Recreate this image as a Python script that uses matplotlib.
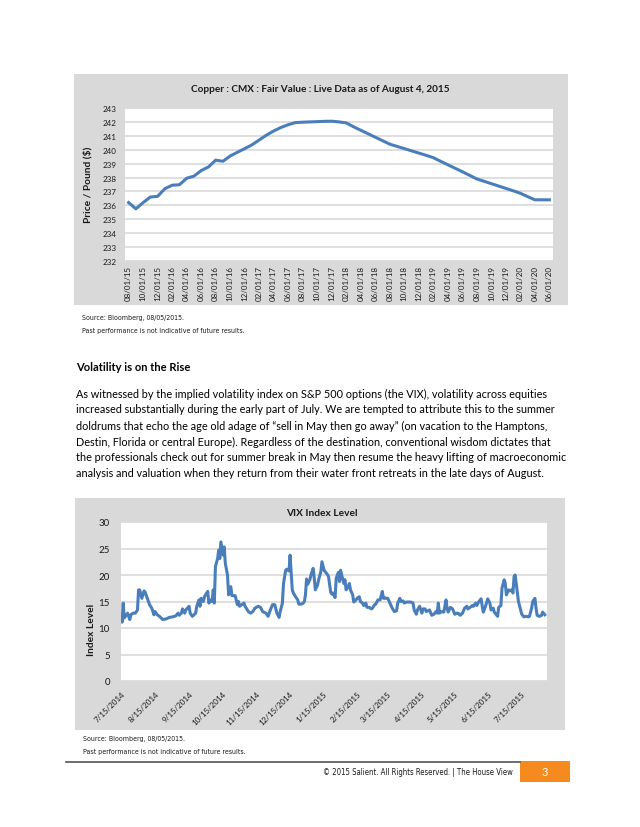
import matplotlib
matplotlib.use('Agg')
import matplotlib.pyplot as plt
from matplotlib.patches import Rectangle
from matplotlib.lines import Line2D
import pandas as pd
import numpy as np

# ---------------- data ----------------
copper_title = "Copper : CMX : Fair Value : Live Data as of August 4, 2015"
copper_ylabel = "Price / Pound ($)"
copper_start = "2015-08-01"
copper_values = [
    236.2, 235.75, 236.2, 236.6, 236.65, 237.2, 237.45, 237.48, 237.95, 238.1,
    238.5, 238.76, 239.25, 239.17, 239.55, 239.82, 240.08, 240.35, 240.7, 241.05,
    241.35, 241.6, 241.8, 241.95, 241.98, 242.0, 242.02, 242.04, 242.05, 242.0,
    241.93, 241.65, 241.4, 241.15, 240.9, 240.65, 240.4, 240.24, 240.08, 239.92,
    239.76, 239.6, 239.43, 239.17, 238.92, 238.67, 238.42, 238.16, 237.9, 237.73,
    237.56, 237.39, 237.22, 237.05, 236.87, 236.63, 236.4, 236.4, 236.4,
]
copper_yticks = list(range(232, 244))

vix_title = "VIX Index Level"
vix_ylabel = "Index Level"
vix_start = "2014-07-15"
vix_day = [
    0, 1, 2, 3, 5, 6, 8, 9, 11, 13,
    15, 16, 17, 19, 21, 22, 24, 26, 28, 30,
    31, 33, 35, 38, 41, 44, 47, 50, 52, 53,
    55, 56, 58, 59, 62, 63, 65, 68, 69, 71,
    72, 73, 75, 76, 78, 79, 80, 82, 83, 84,
    85, 86, 88, 89, 90, 91, 93, 94, 95, 97,
    98, 100, 101, 102, 104, 106, 107, 108, 110, 112,
    113, 116, 118, 120, 122, 125, 127, 129, 132, 134,
    136, 138,
    140, 142, 144, 145, 147, 148, 150, 151, 153, 154,
    156, 157, 159, 161, 162, 164, 166, 167, 168, 169,
    170, 172, 173, 175, 176, 177, 179, 180, 182, 183,
    185, 186, 188, 189, 191, 192, 193, 195, 196, 198,
    199, 200, 201, 203, 204, 205, 207, 208, 209, 211,
    212, 214, 215, 217, 218, 220, 221, 223, 224, 226,
    228, 229, 231, 232, 234, 236, 238, 239, 240, 241,
    243, 245, 247, 249, 251, 252, 254, 255, 257, 258,
    260, 262, 264, 266, 267, 269, 270,
    272, 274, 275, 277, 278, 281, 283, 285, 287, 288,
    289, 290, 292, 294, 296, 297, 298, 300, 302, 304,
    306, 307, 309, 311, 313, 315, 316, 318, 320, 321,
    323, 324, 326, 328, 329, 330, 332, 334, 336, 337,
    339, 340, 343, 344, 346, 347, 349, 350, 351, 353,
    354, 356, 357, 358, 359, 361, 362, 364, 365, 367,
    369, 371, 372, 374, 375, 377, 378, 379, 381, 383,
    384, 386,
]
vix_level = [
    12.0, 11.1, 14.7, 11.9, 12.5, 12.8, 11.6, 12.5, 12.8, 12.8,
    13.4, 17.2, 17.2, 15.6, 17.0, 16.75, 15.6, 14.4, 13.75, 12.5,
    13.1, 12.5, 12.2, 11.6, 11.7, 12.0, 12.1, 12.3, 12.8, 12.4,
    12.8, 13.6, 12.8, 13.4, 14.1, 12.8, 12.2, 12.8, 14.1, 15.3,
    14.1, 15.6, 15.0, 15.9, 16.6, 16.9, 14.7, 15.3, 15.0, 17.2,
    14.7, 21.6, 23.1, 24.7, 23.1, 26.25, 23.75, 25.3, 22.2, 20.0,
    16.25, 17.8, 16.1, 16.1, 16.1, 14.4, 15.0, 14.1, 14.4, 14.7,
    14.1, 13.1, 12.8, 13.1, 13.75, 14.1, 13.9, 13.1, 12.8, 12.2,
    13.4, 14.4,
    14.4, 12.8, 12.0, 13.1, 14.7, 18.4, 20.9, 21.1, 20.75, 23.75,
    17.2, 16.6, 15.9, 15.3, 14.5, 14.5, 14.7, 15.0, 16.25, 19.25,
    18.25, 19.1, 20.0, 21.25, 19.4, 17.2, 18.1, 19.1, 20.6, 22.5,
    20.9, 20.6, 20.1, 19.7, 16.75, 16.4, 16.6, 15.75, 19.4, 20.5,
    18.75, 20.9, 20.0, 18.4, 19.1, 17.2, 17.8, 18.4, 17.2, 16.25,
    14.9, 15.3, 15.6, 15.9, 15.0, 14.7, 14.25, 14.7, 13.9, 13.9,
    13.6, 13.75, 14.4, 14.5, 15.3, 15.3, 16.9, 15.6, 15.75, 15.6,
    15.6, 14.7, 13.75, 13.1, 13.25, 14.7, 15.6, 15.0, 15.1, 14.7,
    14.9, 14.9, 14.9, 14.7, 13.4, 12.6, 13.4,
    14.1, 12.8, 13.6, 13.6, 13.1, 13.4, 12.4, 12.6, 13.1, 12.8,
    14.7, 12.8, 13.1, 13.0, 15.3, 13.75, 13.0, 13.9, 13.6, 12.6,
    12.8, 12.8, 12.4, 12.8, 13.75, 14.1, 13.6, 13.9, 14.25, 14.1,
    14.7, 14.25, 15.0, 15.5, 14.1, 13.0, 14.1, 15.5, 14.7, 13.4,
    13.75, 13.0, 12.2, 13.9, 14.25, 17.5, 19.1, 18.4, 16.25, 17.2,
    17.0, 17.2, 16.6, 19.7, 20.0, 16.6, 15.0, 13.4, 12.6, 12.1,
    12.2, 12.1, 12.2, 13.75, 15.0, 15.6, 13.75, 12.4, 12.2, 12.4,
    13.0, 12.5,
]
vix_yticks = [0, 5, 10, 15, 20, 25, 30]
vix_xtick_dates = ["2014-07-15", "2014-08-15", "2014-09-15", "2014-10-15", "2014-11-15",
                   "2014-12-15", "2015-01-15", "2015-02-15", "2015-03-15", "2015-04-15",
                   "2015-05-15", "2015-06-15", "2015-07-15"]

source_text = "Source: Bloomberg, 08/05/2015."
disclaimer_text = "Past performance is not indicative of future results."
heading_text = "Volatility is on the Rise"
paragraph_lines = [
    "As witnessed by the implied volatility index on S&P 500 options (the VIX), volatility across equities",
    "increased substantially during the early part of July. We are tempted to attribute this to the summer",
    "doldrums that echo the age old adage of \u201csell in May then go away\u201d (on vacation to the Hamptons,",
    "Destin, Florida or central Europe). Regardless of the destination, conventional wisdom dictates that",
    "the professionals check out for summer break in May then resume the heavy lifting of macroeconomic",
    "analysis and valuation when they return from their water front retreats in the late days of August.",
]
footer_text = "\u00a9 2015 Salient. All Rights Reserved. | The House View"
page_number = "3"

# ---------------- style ----------------
W, H = 640, 828
FONT = ['Lato', 'DejaVu Sans']
plt.rcParams['font.family'] = FONT
BLUE = '#4A7EBB'
GRAY_BG = '#D9D9D9'
GRID = '#D9D9D9'
TXT = '#1a1a1a'
ORANGE = '#F58A1F'
NARROW = dict(family=['DejaVu Sans'], fontstretch='condensed')

fig = plt.figure(figsize=(W / 100, H / 100), dpi=100)
fig.patch.set_facecolor('white')
renderer = fig.canvas.get_renderer()


def fx(x):
    return x / W


def fy(y):
    return 1 - y / H


def box(x0, y0, x1, y1):
    return [fx(x0), fy(y1), (x1 - x0) / W, (y1 - y0) / H]


def rect(x0, y0, x1, y1, color, z=-5):
    fig.patches.append(Rectangle((fx(x0), fy(y1)), (x1 - x0) / W, (y1 - y0) / H,
                                 transform=fig.transFigure, facecolor=color,
                                 edgecolor='none', zorder=z))


def fit_text(x, y, s, width_px, fs=8, **kw):
    t = fig.text(fx(x), fy(y), s, fontsize=fs, **kw)
    w = t.get_window_extent(renderer).width
    t.set_fontsize(fs * width_px / w)
    return t


# gray chart backgrounds
rect(74, 75, 568, 306, GRAY_BG)
rect(75, 499, 565, 731, GRAY_BG)

# ---------------- copper chart ----------------
ax1 = fig.add_axes(box(125, 109, 553, 262))
ax1.set_zorder(2)
ax1.set_facecolor('white')
n = len(copper_values)
xi = np.arange(n)
months = pd.date_range(copper_start, periods=n, freq='MS')
ax1.plot(xi, copper_values, color=BLUE, lw=2.2, solid_joinstyle='round', zorder=3)
ax1.set_xlim(-0.5, n - 0.5)
ax1.set_ylim(232, 243)
ax1.set_yticks(copper_yticks)
ax1.set_yticklabels([str(v) for v in copper_yticks], fontsize=5.8, color=TXT)
ax1.set_xticks(xi[::2])
ax1.set_xticklabels([m.strftime('%m/%d/%y') for m in months[::2]], rotation=90,
                    fontsize=5.8, color=TXT)
ax1.grid(axis='y', color=GRID, lw=1.2)
ax1.set_axisbelow(True)
for s in ax1.spines.values():
    s.set_visible(False)
ax1.tick_params(length=0, pad=6)
ax1.tick_params(axis='x', pad=3)

fit_text(320, 89, copper_title, 262, ha='center', va='center', fontweight='bold', color=TXT)
fig.text(fx(88), fy(185), copper_ylabel, rotation=90, ha='center', va='center',
         fontsize=7.3, fontweight='bold', color=TXT)

fig.text(fx(82), fy(318), source_text, fontsize=5.0, ha='left', va='center', color=TXT, **NARROW)
fig.text(fx(82), fy(331), disclaimer_text, fontsize=5.0, ha='left', va='center', color=TXT, **NARROW)

# ---------------- text block ----------------
fit_text(76, 368, heading_text, 115, ha='left', va='center', fontweight='bold', color='black')
t5 = fit_text(76, 458, paragraph_lines[4], 492, ha='left', va='center', color='black')
body_fs = t5.get_fontsize()
t5.remove()
for i, line in enumerate(paragraph_lines):
    fig.text(fx(76), fy(394 + i * 16), line, fontsize=body_fs, ha='left', va='center', color='black')

# ---------------- VIX chart ----------------
ax2 = fig.add_axes(box(121, 523, 547, 682))
ax2.set_zorder(2)
ax2.set_facecolor('white')
start = pd.Timestamp(vix_start)
vdates = start + pd.to_timedelta(vix_day, unit='D')
ax2.plot(vdates, vix_level, color=BLUE, lw=2.2, solid_joinstyle='round', zorder=3)
ax2.set_xlim(start, start + pd.Timedelta(days=388))
ax2.set_ylim(0, 30)
ax2.set_yticks(vix_yticks)
ax2.set_yticklabels([str(v) for v in vix_yticks], fontsize=7, color=TXT)
tick_ts = pd.to_datetime(vix_xtick_dates)
ax2.set_xticks(tick_ts)
ax2.set_xticklabels([f"{d.month}/{d.day}/{d.year}" for d in tick_ts], rotation=45,
                    ha='right', va='top', rotation_mode='anchor', fontsize=5.8, color=TXT)
ax2.grid(axis='y', color=GRID, lw=1.2)
ax2.set_axisbelow(True)
for s in ax2.spines.values():
    s.set_visible(False)
ax2.tick_params(length=0, pad=8)
ax2.tick_params(axis='x', pad=6)

fit_text(322, 514, vix_title, 71, ha='center', va='center', fontweight='bold', color=TXT)
fig.text(fx(92), fy(630), vix_ylabel, rotation=90, ha='center', va='center',
         fontsize=7.3, fontweight='bold', color=TXT)

fig.text(fx(83), fy(739), source_text, fontsize=5.0, ha='left', va='center', color=TXT, **NARROW)
fig.text(fx(83), fy(752), disclaimer_text, fontsize=5.0, ha='left', va='center', color=TXT, **NARROW)

# ---------------- footer ----------------
fig.add_artist(Line2D([fx(66), fx(520)], [fy(762.5), fy(762.5)], color='#555555', lw=1.2,
                      transform=fig.transFigure))
rect(520, 762, 570, 783, ORANGE)
fig.text(fx(513), fy(772.5), footer_text, fontsize=5.6, ha='right', va='center', color=TXT, **NARROW)
fig.text(fx(545), fy(772.5), page_number, fontsize=8, ha='center', va='center', color='white')

fig.savefig('out.png', dpi=100, facecolor='white')
